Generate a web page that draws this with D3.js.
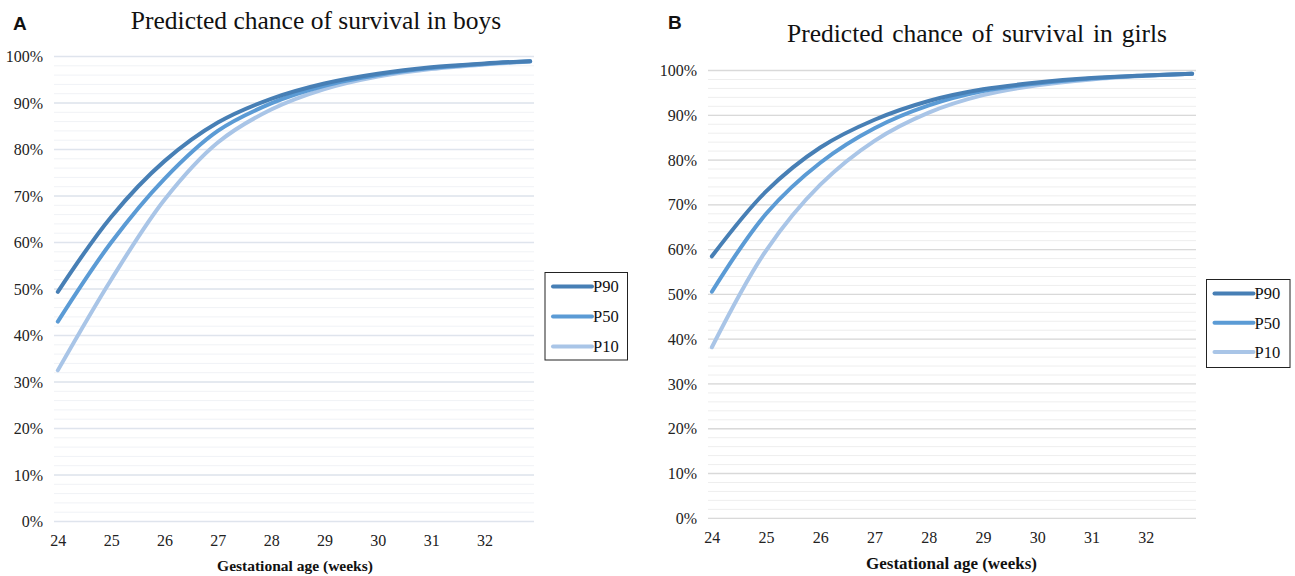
<!DOCTYPE html>
<html>
<head>
<meta charset="utf-8">
<script src="https://cdn.jsdelivr.net/npm/d3@7"></script>
<style>
  body { margin: 0; background: #fff; }
  svg text { font-family: "Liberation Serif", "Times New Roman", serif; }
</style>
</head>
<body>
<div class="chartContainer"></div>
<script>
// gestational age (weeks) at which values were read; last point is 32 + 6/7
var weeks = [24, 25, 26, 27, 28, 29, 30, 31, 32, 32.857];

var boysP90 = [0.494, 0.655, 0.775, 0.858, 0.909, 0.942, 0.963, 0.977, 0.985, 0.990];
var boysP50 = [0.430, 0.600, 0.737, 0.840, 0.899, 0.937, 0.960, 0.975, 0.984, 0.990];
var boysP10 = [0.325, 0.520, 0.692, 0.815, 0.886, 0.930, 0.957, 0.973, 0.983, 0.989];

var girlsP90 = [0.585, 0.730, 0.828, 0.890, 0.932, 0.958, 0.973, 0.983, 0.989, 0.993];
var girlsP50 = [0.506, 0.680, 0.794, 0.871, 0.922, 0.954, 0.971, 0.982, 0.989, 0.993];
var girlsP10 = [0.382, 0.598, 0.745, 0.843, 0.906, 0.945, 0.967, 0.980, 0.988, 0.993];

var seriesNames = ["P90", "P50", "P10"];
var seriesColors = ["#477fb5", "#5b9bd5", "#a9c5e7"];
var xTicks = [24, 25, 26, 27, 28, 29, 30, 31, 32];
var yTicks = [0, 0.1, 0.2, 0.3, 0.4, 0.5, 0.6, 0.7, 0.8, 0.9, 1.0];
var yMinor = d3.range(0, 1.0001, 0.02);

var serif = "'Liberation Serif', 'Times New Roman', serif";

var w = 1295,
    h = 576;

var svg = d3.select(".chartContainer")
    .append("svg")
    .attr("width", w)
    .attr("height", h);

function drawPanel(p) {
    var x = d3.scaleLinear()
        .domain([24 - 1 / 14, 32 + 6 / 7 + 1 / 14])
        .range([p.left, p.right]);
    var y = d3.scaleLinear()
        .domain([0, 1])
        .range([p.bottom, p.top]);

    var g = svg.append("g");

    // minor + major gridlines
    g.selectAll(".minor")
        .data(yMinor)
        .enter().append("line")
        .attr("x1", p.left).attr("x2", p.right)
        .attr("y1", function (d) { return y(d); })
        .attr("y2", function (d) { return y(d); })
        .attr("stroke", p.minorColor)
        .attr("stroke-width", 1);

    g.selectAll(".major")
        .data(yTicks)
        .enter().append("line")
        .attr("x1", p.left).attr("x2", p.right)
        .attr("y1", function (d) { return y(d); })
        .attr("y2", function (d) { return y(d); })
        .attr("stroke", p.majorColor)
        .attr("stroke-width", 1.3);

    // y axis labels
    var yAxis = g.append("g")
        .attr("transform", "translate(" + (p.left - 8) + ",0)")
        .call(d3.axisLeft(y).tickValues(yTicks).tickFormat(d3.format(".0%")).tickSize(0));
    yAxis.select(".domain").remove();
    yAxis.selectAll("text")
        .style("font-family", serif)
        .style("font-size", "16px")
        .attr("fill", "#222");

    // x axis labels
    var xAxis = g.append("g")
        .attr("transform", "translate(0," + (p.bottom + 10) + ")")
        .call(d3.axisBottom(x).tickValues(xTicks).tickFormat(d3.format("d")).tickSize(0));
    xAxis.select(".domain").remove();
    xAxis.selectAll("text")
        .style("font-family", serif)
        .style("font-size", "16px")
        .attr("fill", "#222");

    // lines
    var line = d3.line()
        .x(function (d, i) { return x(weeks[i]); })
        .y(function (d) { return y(d); })
        .curve(d3.curveCatmullRom.alpha(0.5));

    var series = [p.p90, p.p50, p.p10];
    for (var k = series.length - 1; k >= 0; k--) {
        g.append("path")
            .attr("d", line(series[k]))
            .attr("fill", "none")
            .attr("stroke", seriesColors[k])
            .attr("stroke-width", 4)
            .attr("stroke-linecap", "round");
    }

    // title, panel letter, x title
    svg.append("text")
        .attr("x", p.titleX).attr("y", p.titleY)
        .attr("text-anchor", "middle")
        .style("font-size", "25.5px")
        .style("word-spacing", p.titleSpacing + "px")
        .attr("fill", "#111")
        .text(p.title);

    svg.append("text")
        .attr("x", p.letterX).attr("y", p.letterY)
        .style("font-family", "'Liberation Sans', Arial, sans-serif")
        .attr("font-weight", "bold")
        .style("font-size", "19px")
        .attr("fill", "#111")
        .text(p.letter);

    svg.append("text")
        .attr("x", p.xTitleX).attr("y", p.xTitleY)
        .attr("text-anchor", "middle")
        .attr("font-weight", "bold")
        .style("font-size", p.xTitleSize + "px")
        .attr("fill", "#111")
        .text("Gestational age (weeks)");

    // legend
    var lg = svg.append("g")
        .attr("transform", "translate(" + p.legX + "," + p.legY + ")");
    lg.append("rect")
        .attr("width", p.legW).attr("height", p.legH)
        .attr("fill", "#fff")
        .attr("stroke", "#222")
        .attr("stroke-width", 1);
    seriesNames.forEach(function (name, i) {
        var cy = 14 + i * p.legStep;
        lg.append("line")
            .attr("x1", 8).attr("x2", 47)
            .attr("y1", cy).attr("y2", cy)
            .attr("stroke", seriesColors[i])
            .attr("stroke-width", 4)
            .attr("stroke-linecap", "round");
        lg.append("text")
            .attr("x", 48).attr("y", cy)
            .attr("dy", "0.35em")
            .style("font-size", "16.5px")
            .attr("fill", "#111")
            .text(name);
    });
}

drawPanel({
    left: 54, right: 534, top: 56.5, bottom: 521.5,
    majorColor: "#dfe4ed", minorColor: "#f0f2f6",
    p90: boysP90, p50: boysP50, p10: boysP10,
    title: "Predicted chance of survival in boys", titleX: 316, titleY: 29, titleSpacing: 0,
    letter: "A", letterX: 13, letterY: 30,
    xTitleX: 295, xTitleY: 571, xTitleSize: 15.5,
    legX: 545, legY: 272.5, legW: 82.5, legH: 87.5, legStep: 30
});

drawPanel({
    left: 708, right: 1196, top: 70.5, bottom: 518.3,
    majorColor: "#d9d9d9", minorColor: "#eeeeee",
    p90: girlsP90, p50: girlsP50, p10: girlsP10,
    title: "Predicted chance of survival in girls", titleX: 977, titleY: 42, titleSpacing: 2.5,
    letter: "B", letterX: 668, letterY: 29,
    xTitleX: 951.5, xTitleY: 569, xTitleSize: 17,
    legX: 1206.5, legY: 279.5, legW: 83.5, legH: 88, legStep: 29.3
});
</script>
</body>
</html>
